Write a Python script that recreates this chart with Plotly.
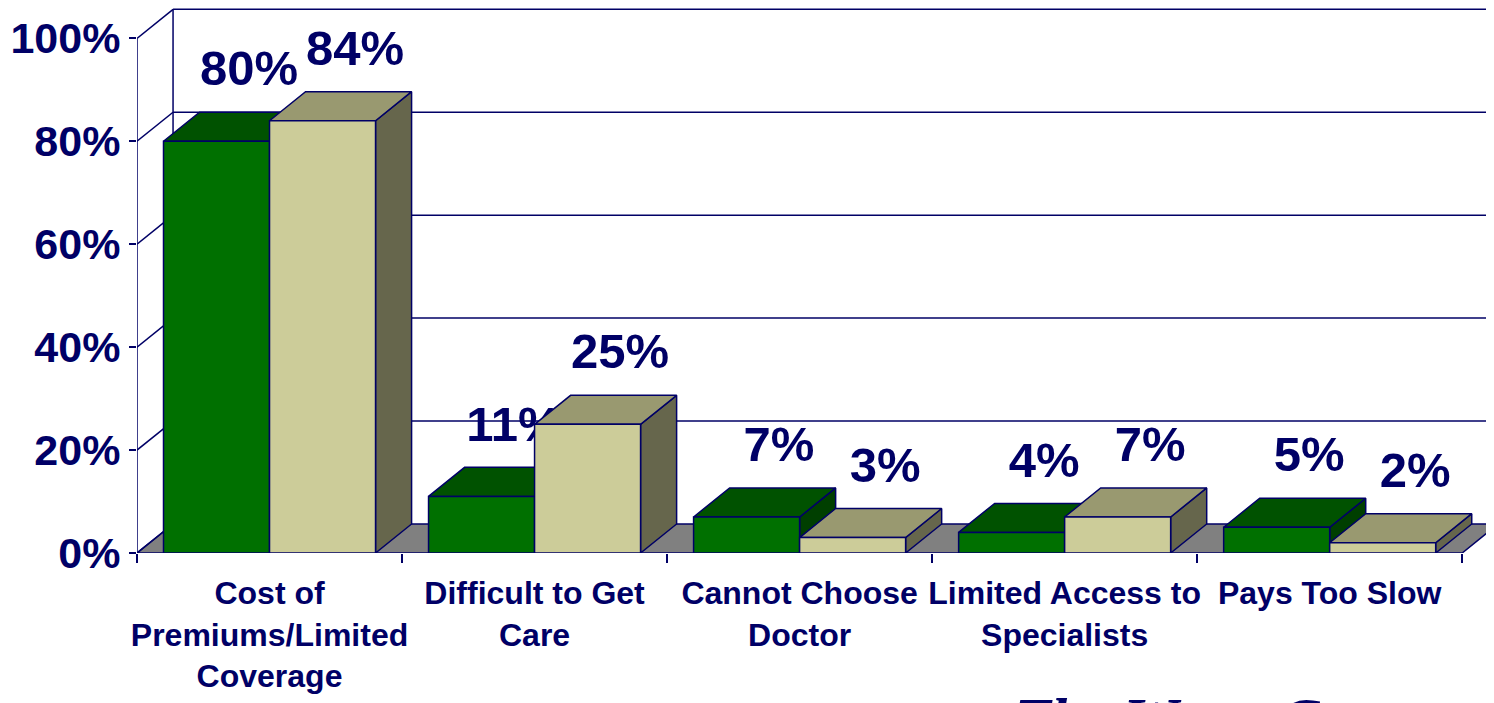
import plotly.graph_objects as go

# data
categories = ["Cost of<br>Premiums/Limited<br>Coverage", "Difficult to Get<br>Care",
              "Cannot Choose<br>Doctor", "Limited Access to<br>Specialists", "Pays Too Slow"]
green_vals = [80, 11, 7, 4, 5]
tan_vals = [84, 25, 3, 7, 2]
y_ticks = [0, 20, 40, 60, 80, 100]
y_ticktext = ["0%", "20%", "40%", "60%", "80%", "100%"]
footer_text = "The Wyatt Company"

NAVY = "#000066"
FONT = "Arial, Liberation Sans, sans-serif"
GREEN = ("#007000", "#005200", "#003f00")    # front, top, side
TAN = ("#cccc99", "#999970", "#66664c")
FLOOR = "#808080"

# 3D depth in data units
DX, DY = 0.136, 5.64
X_MAX = 5.12
Y_MAX = 105.9
LABEL_UP = 7.6

fig = go.Figure()


def poly(xs, ys, fill):
    fig.add_trace(go.Scatter(
        x=xs + [xs[0]], y=ys + [ys[0]], mode="lines", fill="toself",
        fillcolor=fill, line=dict(color=NAVY, width=1.5),
        hoverinfo="skip", showlegend=False))


def line(xs, ys):
    fig.add_trace(go.Scatter(x=xs, y=ys, mode="lines", line=dict(color=NAVY, width=1.5),
                             hoverinfo="skip", showlegend=False))


def bar3d(x0, x1, h, colors):
    front, top, side = colors
    poly([x1, x1 + DX, x1 + DX, x1], [0, DY, h + DY, h], side)
    poly([x0, x1, x1 + DX, x0 + DX], [h, h, h + DY, h + DY], top)
    poly([x0, x1, x1, x0], [0, 0, h, h], front)


def label(xc, h):
    fig.add_trace(go.Scatter(
        x=[xc + DX * 0.9], y=[h + DY + LABEL_UP], mode="text", text=[f"{h}%"],
        textposition="middle center",
        textfont=dict(family=FONT, size=49, color=NAVY, weight="bold"),
        hoverinfo="skip", showlegend=False, cliponaxis=False))


n = len(categories)

# floor
poly([0, n, n + DX, DX], [0, 0, DY, DY], FLOOR)

# back wall gridlines and left wall
for v in y_ticks[1:]:
    line([DX, X_MAX + 1], [v + DY, v + DY])
for v in y_ticks:
    line([0, DX], [v, v + DY])
line([0, 0], [0, 100])
line([DX, DX], [DY, 100 + DY])

# bars
for i in range(n):
    bar3d(i + 0.1, i + 0.5, green_vals[i], GREEN)
    label(i + 0.3, green_vals[i])
    bar3d(i + 0.5, i + 0.9, tan_vals[i], TAN)
    label(i + 0.7, tan_vals[i])

# footer, mostly cut off at the bottom of the page
fig.add_annotation(text=f"<b><i>{footer_text}</i></b>", xref="paper", yref="paper",
                   x=0.645, y=-0.241, xanchor="left", yanchor="top", showarrow=False,
                   font=dict(family="Liberation Serif, Times New Roman, serif", size=60, color=NAVY))

fig.update_xaxes(
    range=[0, X_MAX], tickvals=[i + 0.5 for i in range(n)], ticktext=categories,
    ticks="", showgrid=False, zeroline=False, showline=False, automargin=False,
    tickfont=dict(family=FONT, size=32, color=NAVY, weight="bold"),
    ticklabelstandoff=18,
    minor=dict(tick0=0, dtick=1, ticks="outside", ticklen=9, tickwidth=1.5,
               tickcolor=NAVY, showgrid=False),
)
fig.update_yaxes(
    range=[0, Y_MAX], tickvals=y_ticks, ticktext=y_ticktext,
    ticks="outside", ticklen=7, tickwidth=1.5, tickcolor=NAVY,
    showgrid=False, zeroline=False, showline=False, automargin=False,
    tickfont=dict(family=FONT, size=43, color=NAVY, weight="bold"),
)
fig.update_layout(
    width=1486, height=695,
    margin=dict(l=129, r=0, t=0, b=150),
    plot_bgcolor="white", paper_bgcolor="white",
    showlegend=False,
)

fig.write_html("out.html")
